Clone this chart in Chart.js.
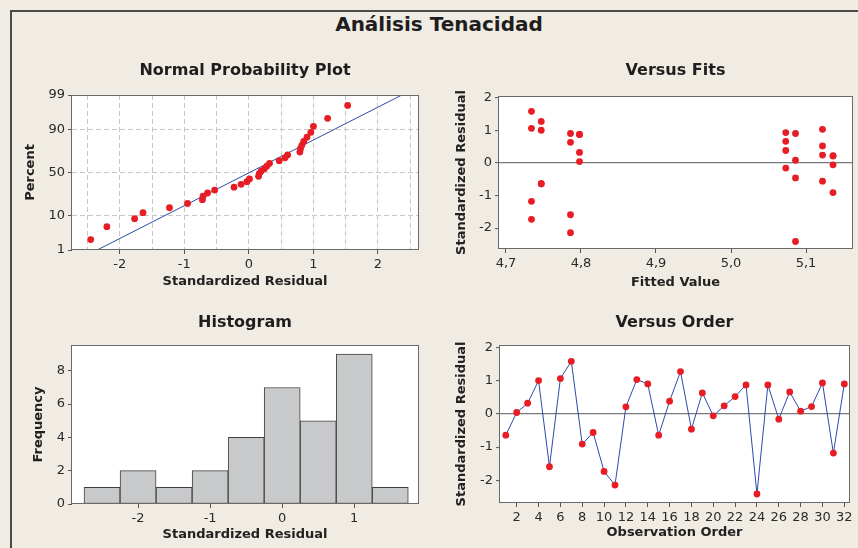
<!DOCTYPE html>
<html lang="es">
<head>
<meta charset="utf-8">
<title>Análisis Tenacidad</title>
<script src="https://cdn.jsdelivr.net/npm/chart.js@4.4.1/dist/chart.umd.min.js"></script>
<style>
  html, body { margin: 0; padding: 0; }
  body { width: 858px; height: 548px; background: #f0ece3; position: relative; overflow: hidden; font-family: 'DejaVu Sans', Verdana, sans-serif; }
  #marco { position: absolute; left: 10px; top: 10px; width: 900px; height: 600px; border-left: 2px solid #4a4a4a; border-top: 2px solid #4a4a4a; }
  #titulo { position: absolute; left: 0; top: 12px; width: 878px; text-align: center; font-size: 20px; line-height: 24px; font-weight: bold; color: #1e1e1e; }
  canvas { position: absolute; }
</style>
</head>
<body>
<div id="marco"></div>
<div id="titulo">Análisis Tenacidad</div>
<canvas id="npp" width="415" height="240" style="left:15px; top:58px"></canvas>
<canvas id="fits" width="413" height="240" style="left:445px; top:58px"></canvas>
<canvas id="hist" width="415" height="240" style="left:15px; top:308px"></canvas>
<canvas id="order" width="413" height="240" style="left:445px; top:308px"></canvas>
<script>
// Datos

// Residuos estandarizados por orden de observación
const observationOrder = [1, 2, 3, 4, 5, 6, 7, 8, 9, 10, 11, 12, 13, 14, 15, 16, 17, 18, 19, 20, 21, 22, 23, 24, 25, 26, 27, 28, 29, 30, 31, 32];
const residuals = [-0.64, 0.04, 0.32, 1.00, -1.59, 1.06, 1.58, -0.91, -0.56, -1.73, -2.14, 0.21, 1.03, 0.90, -0.64, 0.38,
  1.27, -0.46, 0.63, -0.06, 0.24, 0.52, 0.87, -2.41, 0.87, -0.16, 0.66, 0.08, 0.22, 0.93, -1.18, 0.90];
// Valor ajustado de cada observación
const fittedValues = [4.747, 4.798, 4.798, 4.747, 4.786, 4.734, 4.734, 5.136, 5.122, 4.734, 4.786, 5.136, 5.122, 4.786, 4.747, 5.073,
  4.747, 5.086, 4.786, 5.136, 5.122, 5.122, 4.798, 5.086, 4.798, 5.073, 5.073, 5.086, 5.136, 5.073, 4.734, 5.086];

// Gráfica de probabilidad normal
const nppResiduals = [-2.45, -2.20, -1.77, -1.64, -1.23, -0.95, -0.72, -0.71, -0.64, -0.53, -0.23, -0.12, -0.03, 0.01, 0.15, 0.16,
  0.19, 0.24, 0.28, 0.32, 0.47, 0.56, 0.60, 0.79, 0.80, 0.82, 0.85, 0.90, 0.96, 1.00, 1.22, 1.53];
const nppPercent = [2.2, 5.2, 8.3, 11.4, 14.5, 17.6, 20.7, 23.8, 26.9, 29.9, 33.0, 36.1, 39.2, 42.3, 45.4, 48.5,
  51.5, 54.6, 57.7, 60.8, 63.9, 67.0, 70.1, 73.1, 76.2, 79.3, 82.4, 85.5, 88.6, 91.7, 94.8, 97.8];
const fitLineResidual = [-2.35, 2.37];
const fitLinePercent = [1, 99];

// Histograma
const binCenters = [-2.5, -2, -1.5, -1, -0.5, 0, 0.5, 1, 1.5];
const binCounts = [1, 2, 1, 2, 4, 7, 5, 9, 1];

// Marcas de los ejes
const percentTicks = [1, 10, 50, 90, 99];
const nppGridTicks = [-2.5, -2, -1.5, -1, -0.5, 0, 0.5, 1, 1.5, 2, 2.5];
const residualTicks = [-2, -1, 0, 1, 2];
const fitTicks = [4.7, 4.8, 4.9, 5.0, 5.1];
const histTicks = [-2, -1, 0, 1];
const freqTicks = [0, 2, 4, 6, 8];
const orderTicks = [2, 4, 6, 8, 10, 12, 14, 16, 18, 20, 22, 24, 26, 28, 30, 32];

const RED = 'rgb(232, 28, 36)';
const BLUE = 'rgb(45, 75, 170)';
const TICK = '#555555';

Chart.defaults.font.family = "'DejaVu Sans', Verdana, sans-serif";
Chart.defaults.font.size = 13;
Chart.defaults.color = '#2a2a2a';

// Inversa de la normal (Acklam), para el eje de probabilidad
function probit(p) {
  const q = p / 100;
  const a = [-39.69683028665376, 220.9460984245205, -275.9285104469687, 138.3577518672690, -30.66479806614716, 2.506628277459239];
  const b = [-54.47609879822406, 161.5858368580409, -155.6989798598866, 66.80131188771972, -13.28068155288572];
  const c = [-0.007784894002430293, -0.3223964580411365, -2.400758277161838, -2.549732539343734, 4.374664141464968, 2.938163982698783];
  const d = [0.007784695709041462, 0.3224671290700398, 2.445134137142996, 3.754408661907416];
  const pl = 0.02425;
  let x, r;
  if (q < pl) {
    x = Math.sqrt(-2 * Math.log(q));
    return (((((c[0] * x + c[1]) * x + c[2]) * x + c[3]) * x + c[4]) * x + c[5]) / ((((d[0] * x + d[1]) * x + d[2]) * x + d[3]) * x + 1);
  }
  if (q > 1 - pl) {
    x = Math.sqrt(-2 * Math.log(1 - q));
    return -(((((c[0] * x + c[1]) * x + c[2]) * x + c[3]) * x + c[4]) * x + c[5]) / ((((d[0] * x + d[1]) * x + d[2]) * x + d[3]) * x + 1);
  }
  x = q - 0.5;
  r = x * x;
  return (((((a[0] * r + a[1]) * r + a[2]) * r + a[3]) * r + a[4]) * r + a[5]) * x / (((((b[0] * r + b[1]) * r + b[2]) * r + b[3]) * r + b[4]) * r + 1);
}

// Escala "probit" propia: porcentajes colocados según la normal
class ProbitScale extends Chart.LinearScale {
  static id = 'probit';
  buildTicks() {
    return percentTicks.map(v => ({ value: v }));
  }
  configure() {
    super.configure();
    this._zStart = probit(this.min);
    this._zEnd = probit(this.max);
  }
  getPixelForValue(value) {
    return this.getPixelForDecimal((probit(value) - this._zStart) / (this._zEnd - this._zStart));
  }
  getValueForPixel(pixel) {
    const target = this._zStart + this.getDecimalForPixel(pixel) * (this._zEnd - this._zStart);
    let lo = this.min, hi = this.max;
    for (let i = 0; i < 40; i++) {
      const mid = (lo + hi) / 2;
      if (probit(mid) < target) lo = mid; else hi = mid;
    }
    return (lo + hi) / 2;
  }
}
Chart.register(ProbitScale);

// Fondo blanco y marco del área de trazado
Chart.register({
  id: 'plotFrame',
  beforeDraw(chart) {
    const { ctx, chartArea: a } = chart;
    ctx.save();
    ctx.fillStyle = '#ffffff';
    ctx.fillRect(a.left, a.top, a.right - a.left, a.bottom - a.top);
    ctx.restore();
  },
  afterDraw(chart) {
    const { ctx, chartArea: a } = chart;
    ctx.save();
    ctx.strokeStyle = '#6a6a6a';
    ctx.lineWidth = 1;
    ctx.strokeRect(Math.round(a.left) - 0.5, Math.round(a.top) + 0.5, Math.round(a.right - a.left) + 1, Math.round(a.bottom - a.top) - 1);
    ctx.restore();
  }
});

function panelTitle(text, top, bottom) {
  return { display: true, text: text, fullSize: false, color: '#1e1e1e', font: { size: 16, weight: 'bold' }, padding: { top: top, bottom: bottom } };
}

function axisTitle(text, pad) {
  return { display: true, text: text, color: '#222222', font: { size: 13, weight: 'bold' }, padding: pad };
}

function fixedTicks(list) {
  return s => { s.ticks = list.map(v => ({ value: v })); };
}

const commonOptions = {
  responsive: false,
  animation: false,
  events: [],
  plugins: { legend: { display: false }, tooltip: { enabled: false } }
};

// 1) Normal Probability Plot
new Chart(document.getElementById('npp'), {
  type: 'scatter',
  data: {
    datasets: [
      {
        data: nppResiduals.map((x, i) => ({ x: x, y: nppPercent[i] })),
        pointRadius: 3.4, pointBackgroundColor: RED, pointBorderWidth: 0
      },
      {
        data: fitLineResidual.map((x, i) => ({ x: x, y: fitLinePercent[i] })),
        showLine: true, borderColor: BLUE, borderWidth: 1, pointRadius: 0
      }
    ]
  },
  options: {
    ...commonOptions,
    layout: { padding: { left: 0, right: 12, top: 0, bottom: 0 } },
    plugins: { ...commonOptions.plugins, title: panelTitle('Normal Probability Plot', 3.4, 14.4) },
    scales: {
      x: {
        type: 'linear', min: -2.74, max: 2.62,
        afterBuildTicks: fixedTicks(nppGridTicks),
        afterFit: s => { s.height = 48; },
        ticks: { padding: 3, callback: v => Number.isInteger(v) ? String(v) : '' },
        grid: { color: '#c8c8c8', tickLength: 4, tickColor: c => Number.isInteger(c.tick.value) ? TICK : 'transparent' },
        border: { display: false, dash: [5, 3] },
        title: axisTitle('Standardized Residual', 8.2)
      },
      y: {
        type: 'probit', min: 1, max: 99,
        afterFit: s => { s.width = 57; },
        ticks: { padding: 3, callback: v => String(v) },
        grid: { color: c => (c.tick.value > 1 && c.tick.value < 99) ? '#c8c8c8' : 'transparent', tickLength: 4, tickColor: TICK },
        border: { display: false, dash: [5, 3] },
        title: axisTitle('Percent', 8.2)
      }
    }
  }
});

// 2) Versus Fits
new Chart(document.getElementById('fits'), {
  type: 'scatter',
  data: {
    datasets: [{
      data: fittedValues.map((x, i) => ({ x: x, y: residuals[i] })),
      pointRadius: 3.4, pointBackgroundColor: RED, pointBorderWidth: 0
    }]
  },
  options: {
    ...commonOptions,
    layout: { padding: { left: 0, right: 6, top: 0, bottom: 0 } },
    plugins: { ...commonOptions.plugins, title: panelTitle('Versus Fits', 3.4, 15.4) },
    scales: {
      x: {
        type: 'linear', min: 4.6907, max: 5.1613,
        afterBuildTicks: fixedTicks(fitTicks),
        afterFit: s => { s.height = 49; },
        ticks: { padding: 3, callback: v => v.toFixed(1).replace('.', ',') },
        grid: { drawOnChartArea: false, tickLength: 4, tickColor: TICK },
        border: { display: false },
        title: axisTitle('Fitted Value', 7.7)
      },
      y: {
        type: 'linear', min: -2.64, max: 2.05,
        afterBuildTicks: fixedTicks(residualTicks),
        afterFit: s => { s.width = 54; },
        ticks: { padding: 3, callback: v => String(v) },
        grid: { color: c => c.tick.value === 0 ? '#7a7a7a' : 'transparent', lineWidth: 1.2, tickLength: 4, tickColor: TICK, tickWidth: 1 },
        border: { display: false },
        title: axisTitle('Standardized Residual', 9.2)
      }
    }
  }
});

// 3) Histogram
new Chart(document.getElementById('hist'), {
  type: 'bar',
  data: {
    datasets: [{
      data: binCenters.map((x, i) => ({ x: x, y: binCounts[i] })),
      backgroundColor: 'rgb(200, 201, 203)', borderColor: '#404040', borderWidth: 1, borderSkipped: false,
      barPercentage: 1, categoryPercentage: 1
    }]
  },
  options: {
    ...commonOptions,
    layout: { padding: { left: 0, right: 12, top: 0, bottom: 0 } },
    plugins: { ...commonOptions.plugins, title: panelTitle('Histogram', 5.4, 12.4) },
    scales: {
      x: {
        type: 'linear', min: -2.917, max: 1.885, offset: false,
        afterBuildTicks: fixedTicks(histTicks),
        afterFit: s => { s.height = 44; },
        ticks: { padding: 3, callback: v => String(v) },
        grid: { offset: false, drawOnChartArea: false, tickLength: 4, tickColor: TICK },
        border: { display: false },
        title: axisTitle('Standardized Residual', 5.2)
      },
      y: {
        type: 'linear', min: 0, max: 9.55,
        afterBuildTicks: fixedTicks(freqTicks),
        afterFit: s => { s.width = 57; },
        ticks: { padding: 3, callback: v => String(v) },
        grid: { drawOnChartArea: false, tickLength: 4, tickColor: TICK },
        border: { display: false },
        title: axisTitle('Frequency', 15.7)
      }
    }
  }
});

// 4) Versus Order
new Chart(document.getElementById('order'), {
  type: 'scatter',
  data: {
    datasets: [{
      data: observationOrder.map((x, i) => ({ x: x, y: residuals[i] })),
      showLine: true, borderColor: BLUE, borderWidth: 1,
      pointRadius: 3.4, pointBackgroundColor: RED, pointBorderWidth: 0
    }]
  },
  options: {
    ...commonOptions,
    layout: { padding: { left: 0, right: 9, top: 0, bottom: 0 } },
    plugins: { ...commonOptions.plugins, title: panelTitle('Versus Order', 5.4, 12.4) },
    scales: {
      x: {
        type: 'linear', min: 0.47, max: 32.43,
        afterBuildTicks: fixedTicks(orderTicks),
        afterFit: s => { s.height = 45; },
        ticks: { padding: 3, callback: v => String(v) },
        grid: { drawOnChartArea: false, tickLength: 4, tickColor: TICK },
        border: { display: false },
        title: axisTitle('Observation Order', 7.2)
      },
      y: {
        type: 'linear', min: -2.68, max: 2.07,
        afterBuildTicks: fixedTicks(residualTicks),
        afterFit: s => { s.width = 55; },
        ticks: { padding: 3, callback: v => String(v) },
        grid: { color: c => c.tick.value === 0 ? '#7a7a7a' : 'transparent', lineWidth: 1.2, tickLength: 4, tickColor: TICK, tickWidth: 1 },
        border: { display: false },
        title: axisTitle('Standardized Residual', 9.2)
      }
    }
  }
});
</script>
</body>
</html>
